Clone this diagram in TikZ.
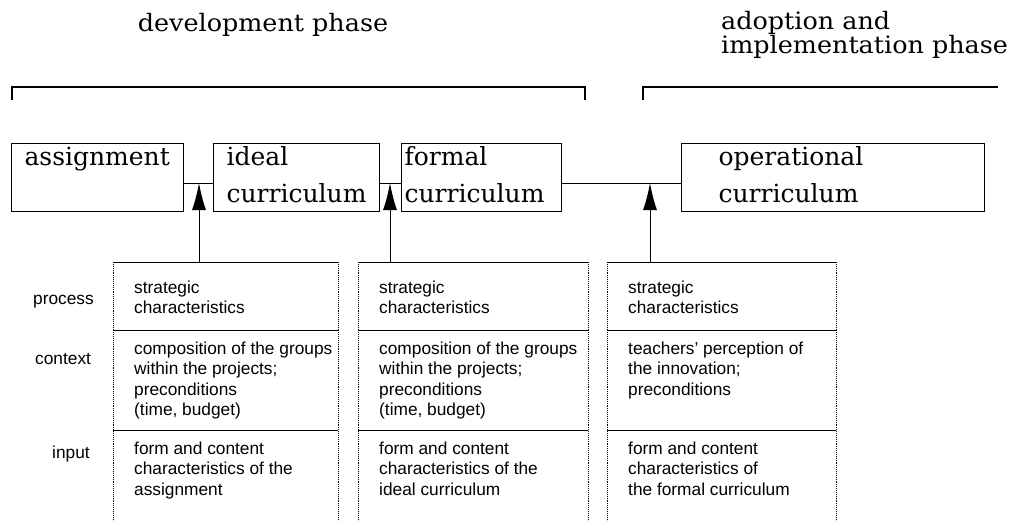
\documentclass[tikz,border=0pt]{standalone}
\usepackage{fontspec}
\setmainfont{DejaVu Serif}
\setsansfont{Liberation Sans}
\usetikzlibrary{arrows.meta}
% width, left inset, line 1, line 2
\newcommand{\boxlines}[4]{\parbox{#1}{\raggedright\leftskip=#2\relax\rule{0pt}{20pt}#3\\#4\rule[-8pt]{0pt}{8pt}}}
% width, height, top offset, text
\newcommand{\cellbox}[4]{\parbox[c][#2][t]{#1}{\raggedright\leftskip=21pt\relax\vspace*{#3}\strut #4}}
\newcommand{\wide}[1]{\scalebox{1.06}[1]{#1}}
\begin{document}
\begin{tikzpicture}[x=1pt,y=-1pt,
  head/.style={font=\fontsize{24}{21}\selectfont, inner sep=0},
  stage/.style={draw, line width=1.1pt, inner sep=0, anchor=north west,
                font=\fontsize{25}{37}\selectfont},
  cell/.style={inner sep=0, anchor=north west, font=\sffamily\fontsize{17.3}{20.5}\selectfont},
  lab/.style={inner sep=0, anchor=base west, font=\sffamily\fontsize{17.3}{20.5}\selectfont},
  hline/.style={line width=0.8pt},
  vline/.style={line width=0.9pt, densely dotted},
  conn/.style={line width=1pt},
  arr/.style={line width=1pt, -{Latex[length=27pt,width=14pt]}},
  brk/.style={line width=1.2pt}]
\useasboundingbox (0,0) rectangle (1012,520);

% headers
\node[head, anchor=base] (dev) at (263,31) {\wide{development phase}};
\node[head, anchor=north west, align=left] (adopt) at (721,11) {\wide{adoption and}\\\wide{implementation phase}};
\draw[brk] (12,100) -- (12,87) -- (585,87) -- (585,100);
\draw[brk] (643,100) -- (643,87) -- (998,87);

% stage boxes
\node[stage, minimum width=172pt, minimum height=68pt] (assign) at (11,143)
  {\boxlines{172pt}{13pt}{assignment}{}};
\node[stage, minimum width=166pt, minimum height=68pt] (ideal) at (213,143)
  {\boxlines{166pt}{13pt}{ideal}{curriculum}};
\node[stage, minimum width=160pt, minimum height=68pt] (formal) at (401,143)
  {\boxlines{160pt}{3pt}{formal}{curriculum}};
\node[stage, minimum width=303pt, minimum height=68pt] (oper) at (681,143)
  {\boxlines{303pt}{37pt}{operational}{curriculum}};

\coordinate (j1) at (199,183);
\coordinate (j2) at (390,183);
\coordinate (j3) at (650,183);
\draw[conn] (assign.east |- j1) -- (ideal.west |- j1);
\draw[conn] (ideal.east |- j2) -- (formal.west |- j2);
\draw[conn] (formal.east |- j3) -- (oper.west |- j3);

% row labels
\node[lab] (lproc) at (33,304) {process};
\node[lab] (lctx) at (35,364) {context};
\node[lab] (linp) at (52,458) {input};

% column 1
\node[cell] (p1) at (113,262) {\cellbox{225pt}{68pt}{16.5pt}{strategic\\characteristics}};
\node[cell] (c1) at (113,330) {\cellbox{225pt}{100pt}{9.5pt}{composition of the groups\\within the projects;\\preconditions\\(time, budget)}};
\node[cell] (i1) at (113,430) {\cellbox{225pt}{90pt}{9.5pt}{form and content\\characteristics of the\\assignment}};
% column 2
\node[cell] (p2) at (358,262) {\cellbox{230pt}{68pt}{16.5pt}{strategic\\characteristics}};
\node[cell] (c2) at (358,330) {\cellbox{230pt}{100pt}{9.5pt}{composition of the groups\\within the projects;\\preconditions\\(time, budget)}};
\node[cell] (i2) at (358,430) {\cellbox{230pt}{90pt}{9.5pt}{form and content\\characteristics of the\\ideal curriculum}};
% column 3
\node[cell] (p3) at (607,262) {\cellbox{229pt}{68pt}{16.5pt}{strategic\\characteristics}};
\node[cell] (c3) at (607,330) {\cellbox{229pt}{100pt}{9.5pt}{teachers’ perception of\\the innovation;\\preconditions}};
\node[cell] (i3) at (607,430) {\cellbox{229pt}{90pt}{9.5pt}{form and content\\characteristics of\\the formal curriculum}};

\foreach \k in {1,2,3}{
  \draw[hline] (p\k.north west) -- (p\k.north east);
  \draw[hline] (c\k.north west) -- (c\k.north east);
  \draw[hline] (i\k.north west) -- (i\k.north east);
  \draw[vline] (p\k.north west) -- (i\k.south west);
  \draw[vline] (p\k.north east) -- (i\k.south east);
}

% arrows
\draw[arr] (j1 |- p1.north) -- (j1);
\draw[arr] (j2 |- p2.north) -- (j2);
\draw[arr] (j3 |- p3.north) -- (j3);
\end{tikzpicture}
\end{document}
